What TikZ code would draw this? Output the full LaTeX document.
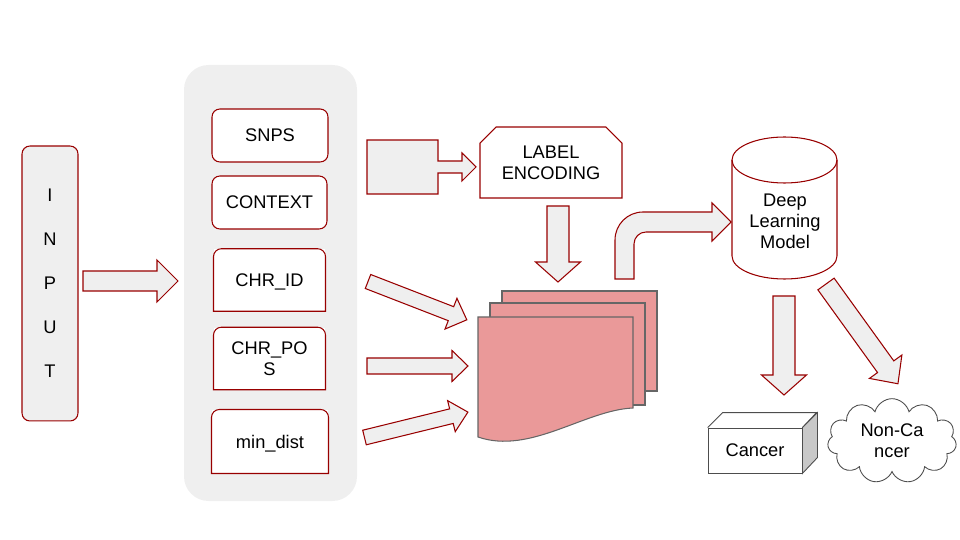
\documentclass[tikz,border=0pt]{standalone}
\usepackage{fontspec}
\setmainfont{Liberation Sans}
\usepackage[RGB]{xcolor}
\usetikzlibrary{shapes.misc,shapes.symbols}
\definecolor{ruby}{RGB}{152,0,0}
\definecolor{ash}{RGB}{239,239,239}
\definecolor{rose}{RGB}{234,153,153}
\definecolor{slate}{RGB}{102,102,102}
\definecolor{steel}{RGB}{200,200,200}
\newcommand{\blockarrow}[6]{\begin{scope}[shift={#1},rotate=#2]
  \filldraw[fill=ash,draw=ruby] (0,-#4)--(#3-#6,-#4)--(#3-#6,-#5)--(#3,0)--(#3-#6,#5)--(#3-#6,#4)--(0,#4)--cycle;
  \end{scope}}
\newcommand{\topround}[1]{\draw[ruby] (#1.south west) [rounded corners=4.5pt]-- (#1.north west) -- (#1.north east) [sharp corners]-- (#1.south east) -- cycle;}

\begin{document}
\begin{tikzpicture}[x=0.02cm,y=0.02cm,line width=0.6pt,
  every node/.style={font=\fontsize{10.4}{11.9}\selectfont,align=center},
  field/.style={draw=ruby,fill=white,rounded corners=4.5pt,minimum width=2.32cm,minimum height=1.06cm},
  fieldsq/.style={fill=white,text depth=0pt,minimum width=2.22cm,minimum height=1.23cm}]
\useasboundingbox (0,0) rectangle (960,-540);
\fill[ash,rounded corners=14pt] (184,-65) rectangle (357,-501);
\node[draw=ruby,fill=ash,rounded corners=4.5pt,minimum width=1.12cm,minimum height=5.5cm,font=\fontsize{10.4}{25}\selectfont] (input) at (50,-283.5) {I\\N\\P\\U\\T};
\node[field] (snps) at (270,-135.5) {SNPS};
\node[field,minimum width=2.3cm] (context) at (269.5,-202.5) {CONTEXT};
\node[fieldsq] (chrid) at (269.5,-280) {CHR\_ID};
\node[fieldsq] (chrpos) at (269.5,-358.5) {CHR\_PO\\S};
\node[fieldsq,minimum width=2.32cm,minimum height=1.26cm] (mindist) at (270,-441.5) {min\_dist};
\topround{chrid}\topround{chrpos}\topround{mindist}
\node[draw=ruby,chamfered rectangle,chamfered rectangle corners={north west,north east},chamfered rectangle xsep=0.16cm,chamfered rectangle ysep=0.16cm,minimum width=2.84cm,minimum height=1.42cm,text depth=0pt] (labelenc) at (551,-162.5) {LABEL\\ENCODING};
\filldraw[fill=rose,draw=slate] (502,-291) rectangle (657,-391);
\filldraw[fill=rose,draw=slate] (490,-303) rectangle (645,-405);
\filldraw[fill=rose,draw=slate] (478,-317) -- (633,-317) -- (633,-408) .. controls (585,-410) and (530,-455) .. (478,-437) -- cycle;
\draw[ruby] (732,-160) -- (732,-256) arc[start angle=180,end angle=360,x radius=52.5,y radius=23] -- (837,-160);
\draw[ruby] (784.5,-160) ellipse[x radius=52.5,y radius=23];
\node (dlm) at (785,-221) {Deep\\Learning\\Model};
\node[draw=black!70,line width=0.5pt,minimum width=1.88cm,minimum height=0.9cm] (cancer) at (755,-450.5) {Cancer};
\draw[black!70,line width=0.5pt] (cancer.north west) -- ++(15,15) -- ++(94,0) -- (cancer.north east);
\filldraw[fill=steel,draw=black!70,line width=0.5pt] (cancer.north east) -- ++(15,15) -- ++(0,-45) -- (cancer.south east) -- cycle;
\node[cloud,cloud puffs=11,cloud ignores aspect,draw=black!70,line width=0.5pt,minimum width=2.58cm,minimum height=1.52cm] (noncancer) at (892,-441) {Non-Ca\\ncer};
\blockarrow{(83,-281)}{0}{95}{10}{21}{21}
\filldraw[fill=ash,draw=ruby] (367,-140) -- (438,-140) -- (438,-161) -- (462,-161) -- (462,-153) -- (476,-167) -- (462,-181) -- (462,-173) -- (438,-173) -- (438,-194) -- (367,-194) -- cycle;
\blockarrow{(558,-206)}{-90}{76}{11}{22.5}{20}
\blockarrow{(368,-281.5)}{-21.2}{106}{7.5}{16.5}{17}
\blockarrow{(367,-366)}{0}{101}{8}{15.5}{16}
\blockarrow{(364.5,-437.5)}{13.8}{106.5}{7.5}{16}{17}
\filldraw[fill=ash,draw=ruby] (615,-279) -- (615,-240) .. controls (615,-224.5) and (627.5,-212) .. (643,-212) -- (712,-212) -- (712,-203) -- (731,-222) -- (712,-241) -- (712,-232) -- (646,-232) .. controls (639.4,-232) and (634,-237.4) .. (634,-244) -- (634,-279) -- cycle;
\blockarrow{(784,-296)}{-90}{99}{11}{22.5}{20}
\blockarrow{(826,-284)}{-54.2}{123}{10}{20}{21}
\end{tikzpicture}
\end{document}
